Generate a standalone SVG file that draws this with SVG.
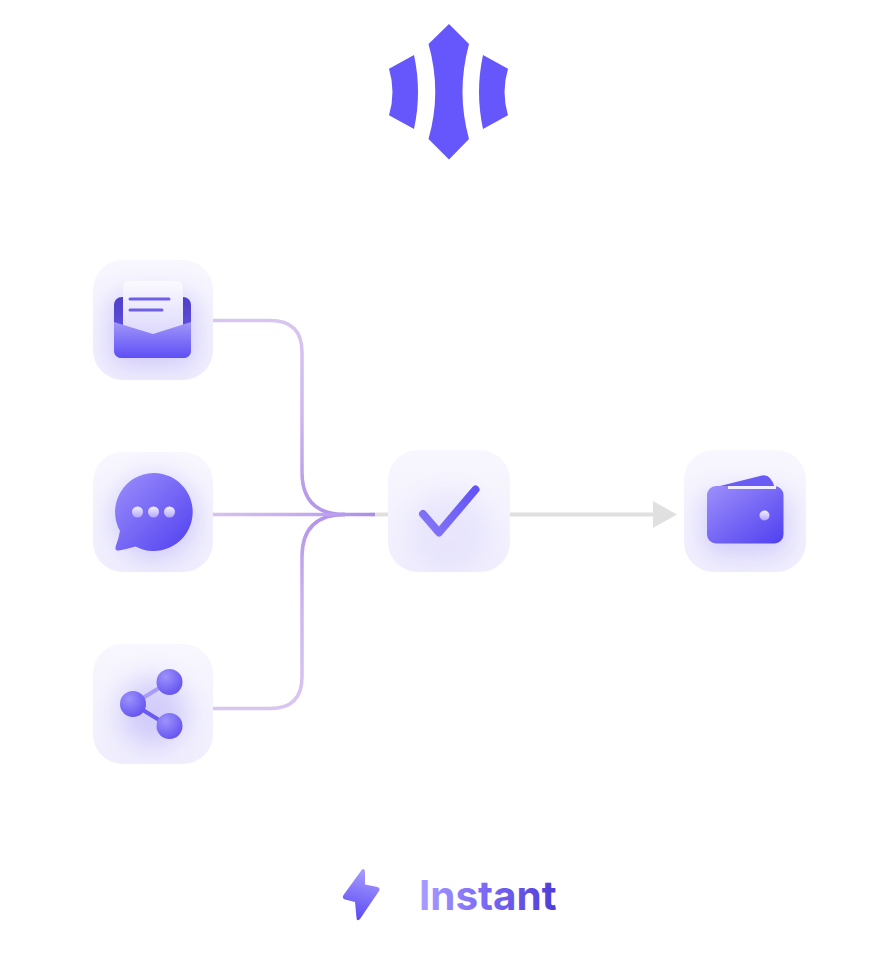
<svg xmlns="http://www.w3.org/2000/svg" width="888" height="964" viewBox="0 0 888 964">
<style>
.tile{fill:url(#tileBg)}
.halo{fill:#7263f2;opacity:.26;filter:url(#blur12)}
.halo-soft{fill:#7263f2;opacity:.08;filter:url(#blur12)}
.grey{fill:none;stroke:#e0e0e0;stroke-width:4}
.ball{fill:url(#ball)}
.pearl{fill:url(#pearl)}
.logo{fill:#6557fb}
.rule{stroke:#6e5fe8;stroke-width:3;stroke-linecap:round;fill:none}
</style>
<defs>
<linearGradient id="tileBg" x1="0" y1="0" x2="0" y2="1"><stop offset="0" stop-color="#f8f7fe"/><stop offset="1" stop-color="#f0eefd"/></linearGradient>
<clipPath id="c1"><rect x="93" y="260" width="120" height="120" rx="30"/></clipPath>
<clipPath id="c2"><rect x="93" y="452" width="120" height="120" rx="30"/></clipPath>
<clipPath id="c3"><rect x="93" y="644" width="120" height="120" rx="30"/></clipPath>
<clipPath id="c4"><rect x="388" y="450" width="122" height="122" rx="30"/></clipPath>
<clipPath id="c5"><rect x="684" y="450" width="122" height="122" rx="30"/></clipPath>
<filter id="blur12" x="-50%" y="-50%" width="200%" height="200%"><feGaussianBlur stdDeviation="13"/></filter>
<linearGradient id="icon" x1="0" y1="0" x2="1" y2="1"><stop offset="0" stop-color="#9d8ffb"/><stop offset="1" stop-color="#5040f0"/></linearGradient>
<linearGradient id="bolt" x1=".6" y1="0" x2=".4" y2="1"><stop offset="0" stop-color="#a99dfd"/><stop offset="1" stop-color="#5a4af4"/></linearGradient>
<linearGradient id="flap" x1="0" y1="0" x2="0" y2="1"><stop offset="0" stop-color="#a196f9"/><stop offset="1" stop-color="#5f4ff6"/></linearGradient>
<linearGradient id="back" x1="0" y1="0" x2="0" y2="1"><stop offset="0" stop-color="#4f3fc8"/><stop offset="1" stop-color="#6a5cf0"/></linearGradient>
<linearGradient id="paper" x1="0" y1="0" x2="0" y2="1"><stop offset="0" stop-color="#fbfaff"/><stop offset="1" stop-color="#dcd8fc"/></linearGradient>
<radialGradient id="ball" cx=".35" cy=".3" r=".8"><stop offset="0" stop-color="#9e92fb"/><stop offset="1" stop-color="#5f4ff0"/></radialGradient>
<linearGradient id="pearl" x1="0" y1="0" x2="0" y2="1"><stop offset="0" stop-color="#f3f0ff"/><stop offset="1" stop-color="#b3a8fa"/></linearGradient>
<linearGradient id="txt" gradientUnits="userSpaceOnUse" x1="419" y1="0" x2="556" y2="0"><stop offset="0" stop-color="#aa9cff"/><stop offset=".5" stop-color="#7868f4"/><stop offset="1" stop-color="#4e3dd6"/></linearGradient>
<linearGradient id="check" gradientUnits="userSpaceOnUse" x1="476" y1="489" x2="423" y2="532"><stop offset="0" stop-color="#6253f8"/><stop offset="1" stop-color="#8577f5"/></linearGradient>
<linearGradient id="wireMid" gradientUnits="userSpaceOnUse" x1="213" y1="0" x2="375" y2="0"><stop offset="0" stop-color="#d6c2ef"/><stop offset=".6" stop-color="#c4a9ee"/><stop offset="1" stop-color="#aa8ce8"/></linearGradient>
<linearGradient id="wireTop" gradientUnits="userSpaceOnUse" x1="0" y1="320" x2="0" y2="514"><stop offset="0" stop-color="#d8c6f0"/><stop offset=".5" stop-color="#ceb6ef"/><stop offset="1" stop-color="#b294ea"/></linearGradient>
<linearGradient id="wireBot" gradientUnits="userSpaceOnUse" x1="0" y1="708" x2="0" y2="514"><stop offset="0" stop-color="#d8c6f0"/><stop offset=".5" stop-color="#ceb6ef"/><stop offset="1" stop-color="#b294ea"/></linearGradient>
</defs>

<g id="logo">
<path class="logo" d="M449 24L469 44Q456 92 469 139L449 159.500L428.500 139Q442 92 428.500 44Z"/>
<path class="logo" d="M414 55L389 68.700Q396 92 389 115.300L414 129Q422 92 414 55Z"/>
<path class="logo" d="M483 55L508 68.700Q501 92 508 115.300L483 129Q475 92 483 55Z"/>
</g>

<g id="connectors">
<path class="grey" d="M370 514.500H388"/>
<path class="grey" d="M510 514.500H656"/>
<polygon points="653,501 677,514.500 653,528" fill="#e0e0e0"/>
<path fill="none" stroke="url(#wireTop)" stroke-width="3.500" d="M213 320.500H270Q302 320.500 302 352V472Q302 514.500 345 514.500"/>
<path fill="none" stroke="url(#wireBot)" stroke-width="3.500" d="M213 708.500H270Q302 708.500 302 677V557Q302 514.500 345 514.500"/>
<path d="M213 514.500H375" fill="none" stroke="url(#wireMid)" stroke-width="3.500"/>
</g>

<g id="node-mail">
<rect class="tile" x="93" y="260" width="120" height="120" rx="30"/>
<g clip-path="url(#c1)"><rect class="halo" x="110" y="295" width="86" height="72" rx="14"/></g>
<rect x="114" y="297" width="77" height="61" rx="8" fill="url(#back)"/>
<path d="M129 281H177Q183 281 183 287V335H123V287Q123 281 129 281Z" fill="url(#paper)"/>
<path d="M114 322L153 334L191 322V350Q191 358 183 358H122Q114 358 114 350Z" fill="url(#flap)"/>
<path class="rule" d="M130 299H169"/>
<path class="rule" d="M130 310H162"/>
</g>

<g id="node-chat">
<rect class="tile" x="93" y="452" width="120" height="120" rx="30"/>
<g clip-path="url(#c2)"><circle class="halo" cx="155" cy="518" r="42"/></g>
<path d="M153.500 473A39 39 0 1 1 135.500 546.500Q127 549 119 550.500Q114 551 116 545.500Q119 537 120 531A39 39 0 0 1 153.500 473Z" fill="url(#icon)"/>
<circle class="pearl" cx="137.500" cy="512" r="5.500"/>
<circle class="pearl" cx="153.500" cy="512" r="5.500"/>
<circle class="pearl" cx="169.500" cy="512" r="5.500"/>
</g>

<g id="node-share">
<rect class="tile" x="93" y="644" width="120" height="120" rx="30"/>
<g clip-path="url(#c3)"><circle class="halo" cx="153" cy="712" r="34"/></g>
<path d="M133 704L169 682" stroke="#a79cf8" stroke-width="4" fill="none"/>
<path d="M133 704L169 726" stroke="#6a5bf0" stroke-width="4" fill="none"/>
<circle class="ball" cx="133" cy="704" r="13"/>
<circle class="ball" cx="169.500" cy="682" r="13"/>
<circle class="ball" cx="169.500" cy="726" r="13"/>
</g>

<g id="node-check">
<rect class="tile" x="388" y="450" width="122" height="122" rx="30"/>
<g clip-path="url(#c4)"><circle class="halo-soft" cx="449" cy="530" r="40"/></g>
<path d="M423 514L439 532.500L475.500 489.500" fill="none" stroke="url(#check)" stroke-width="8" stroke-linecap="round" stroke-linejoin="round"/>
</g>

<g id="node-wallet">
<rect class="tile" x="684" y="450" width="122" height="122" rx="30"/>
<g clip-path="url(#c5)"><rect class="halo" x="704" y="492" width="84" height="62" rx="16"/></g>
<path d="M720 486L762 475.500Q771 474 775 488H720Z" fill="#6a5bf4"/>
<rect x="707" y="486" width="76.500" height="57.500" rx="9" fill="url(#icon)"/>
<path d="M728 487.500H776" stroke="#f0edff" stroke-width="3" fill="none"/>
<circle class="pearl" cx="764.500" cy="515.500" r="5"/>
</g>

<g id="instant">
<path d="M362 869.500Q365 868 365 872L365 884.500L377.500 887Q380.500 888 379 891L360 919Q357 922 356.500 918L355 902L345 899.500Q341.500 898 343.500 895Z" fill="url(#bolt)"/>
<text x="419" y="910" font-family="Inter, sans-serif" font-size="40.400" font-weight="700" fill="url(#txt)">Instant</text>
</g>
</svg>
